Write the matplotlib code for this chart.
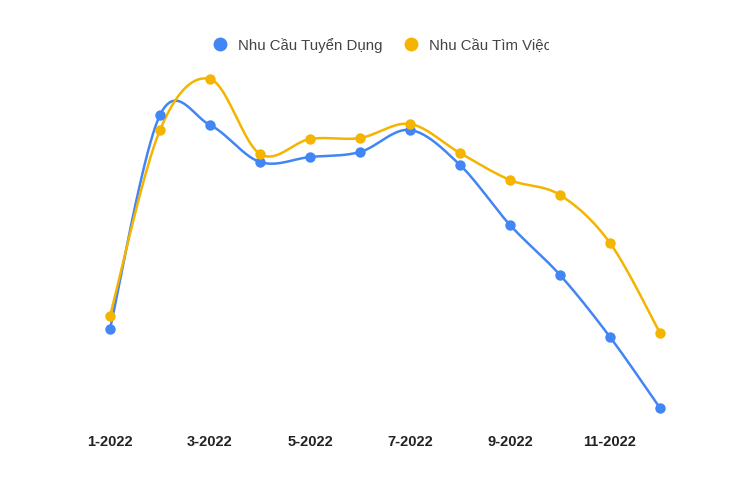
import numpy as np
import matplotlib
matplotlib.use("Agg")
import matplotlib.pyplot as plt
from matplotlib.lines import Line2D
from matplotlib.transforms import Bbox, TransformedBbox

months = ["1-2022", "2-2022", "3-2022", "4-2022", "5-2022", "6-2022",
          "7-2022", "8-2022", "9-2022", "10-2022", "11-2022", "12-2022"]
tuyen_dung = [110, 324, 314, 277, 282, 287, 309, 274, 214, 164, 102, 31]
tim_viec = [123, 309, 360, 285, 300, 301, 315, 286, 259, 244, 196, 106]

BLUE = "#4285F4"
YELLOW = "#F4B400"


def smooth(xs, ys, n=40):
    # catmull-rom through the points, like the "function" curve of the web chart
    xs = np.asarray(xs, float)
    ys = np.asarray(ys, float)
    px = np.concatenate([[xs[0]], xs, [xs[-1]]])
    py = np.concatenate([[ys[0]], ys, [ys[-1]]])
    outx, outy = [], []
    for i in range(1, len(px) - 2):
        p0 = np.array([px[i], py[i]])
        p3 = np.array([px[i + 1], py[i + 1]])
        c1 = p0 + (np.array([px[i + 1], py[i + 1]]) - np.array([px[i - 1], py[i - 1]])) / 6
        c2 = p3 - (np.array([px[i + 2], py[i + 2]]) - np.array([px[i], py[i]])) / 6
        t = np.linspace(0, 1, n)[:, None]
        b = (1 - t) ** 3 * p0 + 3 * (1 - t) ** 2 * t * c1 + 3 * (1 - t) * t ** 2 * c2 + t ** 3 * p3
        outx.extend(b[:, 0])
        outy.extend(b[:, 1])
    return outx, outy


fig = plt.figure(figsize=(7.54, 4.85), dpi=100)
ax = fig.add_axes([85 / 754, 65 / 485, 600 / 754, 350 / 485])

x = np.arange(len(months))
for vals, clr in [(tuyen_dung, BLUE), (tim_viec, YELLOW)]:
    sx, sy = smooth(x, vals)
    ax.plot(sx, sy, color=clr, lw=1.8, solid_capstyle="round", zorder=2)
    ax.plot(x, vals, "o", color=clr, ms=7.5, mec="none", zorder=3)

ax.set_xlim(-0.5, 11.5)
ax.set_ylim(20, 370)
ax.set_yticks([])
ax.set_xticks(x[::2])
ax.set_xticklabels(months[::2], fontsize=10.5, fontweight="bold",
                   family="Liberation Sans", color="#222222")
ax.tick_params(axis="x", length=0, pad=11)
for s in ax.spines.values():
    s.set_visible(False)

handles = [Line2D([], [], ls="none", marker="o", ms=10, color=BLUE, mec="none"),
           Line2D([], [], ls="none", marker="o", ms=10, color=YELLOW, mec="none")]
leg = fig.legend(handles, ["Nhu Cầu Tuyển Dụng", "Nhu Cầu Tìm Việc"], loc="center left",
                 bbox_to_anchor=(211 / 754, 1 - 46 / 485), ncol=2, frameon=False,
                 prop={"family": "Liberation Sans", "size": 10.8}, labelcolor="#444444",
                 handletextpad=0.6, columnspacing=1.27, handlelength=1.2,
                 borderpad=0, borderaxespad=0)

# the right end of the legend is cut off in the original
clip = TransformedBbox(Bbox.from_extents(0, 0, 549 / 754, 1), fig.transFigure)
for t in leg.get_texts():
    t.set_clip_box(clip)
    t.set_clip_on(True)

fig.savefig("out.png", dpi=100, facecolor="white")
